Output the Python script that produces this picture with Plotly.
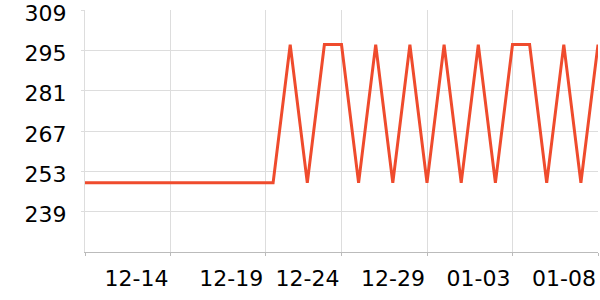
import plotly.graph_objects as go

dates = [
    "2024-12-09", "2024-12-10", "2024-12-11", "2024-12-12", "2024-12-13",
    "2024-12-14", "2024-12-15", "2024-12-16", "2024-12-17", "2024-12-18",
    "2024-12-19", "2024-12-20", "2024-12-21", "2024-12-22", "2024-12-23",
    "2024-12-24", "2024-12-25", "2024-12-26", "2024-12-27", "2024-12-28",
    "2024-12-29", "2024-12-30", "2024-12-31", "2025-01-01", "2025-01-02",
    "2025-01-03", "2025-01-04", "2025-01-05", "2025-01-06", "2025-01-07",
    "2025-01-08",
]
values = [
    249, 249, 249, 249, 249, 249, 249, 249, 249, 249,
    249, 249, 297, 249, 297, 297, 249, 297, 249, 297,
    249, 297, 249, 297, 249, 297, 297, 249, 297, 249,
    297,
]

x_tick_vals = ["2024-12-09", "2024-12-14", "2024-12-19 13:00", "2024-12-24",
               "2024-12-29", "2025-01-03", "2025-01-08"]
x_tick_text = ["", "12-14", "12-19", "12-24", "12-29", "01-03", "01-08"]
y_tick_vals = [239, 253, 267, 281, 295, 309]
y_range = [225, 309.02]

fig = go.Figure()
fig.add_trace(go.Scatter(
    x=dates, y=values, mode="lines",
    line=dict(color="#ef4b2d", width=3),
    hoverinfo="skip", showlegend=False,
))

font = dict(family="DejaVu Sans", size=22, color="#000")

fig.update_layout(
    width=600, height=300,
    margin=dict(l=85, r=2, t=10, b=48),
    paper_bgcolor="white", plot_bgcolor="white",
    font=font,
    xaxis=dict(
        type="date",
        range=[dates[0], dates[-1]],
        tickmode="array", tickvals=x_tick_vals, ticktext=x_tick_text,
        showgrid=True, gridcolor="#dddddd", gridwidth=1,
        showline=True, linecolor="#bbbbbb", linewidth=1,
        ticks="outside", ticklen=3, tickcolor="#bbbbbb",
        ticklabelshift=-34, ticklabelstandoff=4,
        ticklabeloverflow="allow",
        tickfont=font, zeroline=False,
    ),
    yaxis=dict(
        range=y_range,
        tickmode="array", tickvals=y_tick_vals,
        showgrid=True, gridcolor="#dddddd", gridwidth=1,
        showline=True, linecolor="#dddddd", linewidth=1,
        ticks="outside", ticklen=3, tickcolor="#dddddd",
        ticklabelstandoff=10, ticklabelshift=3,
        ticklabeloverflow="allow",
        tickfont=font, zeroline=False,
    ),
)

fig.write_html("out.html")
